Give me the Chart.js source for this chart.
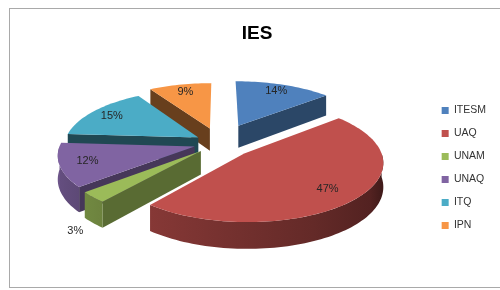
<!DOCTYPE html>
<html>
<head>
<meta charset="utf-8">
<script src="https://cdn.jsdelivr.net/npm/chart.js@4.4.0/dist/chart.umd.min.js"></script>
<style>
  html, body { margin: 0; padding: 0; background: #fff; }
  #wrap { position: relative; width: 500px; height: 290px; overflow: hidden; }
  #frame { position: absolute; left: 9px; top: 8px; width: 520px; height: 278px; border: 1px solid #a9a9a9; }
  canvas { position: absolute; left: 0; top: 0; }
</style>
</head>
<body>
<div id="wrap"><div id="frame"></div><canvas id="c" width="500" height="290"></canvas></div>
<script>
const labels = ['ITESM', 'UAQ', 'UNAM', 'UNAQ', 'ITQ', 'IPN'];
const values = [14, 47, 3, 12, 15, 9];
const colors = ['#4F81BD', '#C0504D', '#9BBB59', '#8064A2', '#4BACC6', '#F79646'];

// explode distance per slice and where its % label sits (fraction of radius)
const explode = [46, 34, 26, 26, 25, 36];
const labelAt = [0.82, 0.78, 1.15, 0.8, 0.82, 0.8];

const FONT = "'Liberation Sans', Arial, sans-serif";
const TILT = 0.43, PERSP = 0.14, DEPTH = 23;
const SHIFT_X = -4, SHIFT_Y = -25;

function shade(hex, f) {
  const n = parseInt(hex.slice(1), 16);
  const c = [(n >> 16) & 255, (n >> 8) & 255, n & 255].map((v) => Math.round(Math.min(255, v * f)));
  return `rgb(${c[0]},${c[1]},${c[2]})`;
}

// how far towards the viewer a slice reaches, used for painter's order
function frontness(a0, a1) {
  let best = Math.max(Math.sin(a0), Math.sin(a1));
  for (let t = Math.PI / 2; t < a1 + 7; t += Math.PI * 2) if (t >= a0 && t <= a1) best = 1;
  return best;
}

const wallShade = (t) => Math.min(0.85, 0.34 + 0.5 * t / Math.PI);

/* Draws the pie arcs as an exploded, tilted 3D pie using the geometry
   Chart.js computed for each arc (angles, radius, offset). */
const pie3d = {
  id: 'pie3d',
  beforeDatasetsDraw(chart) {
    const ctx = chart.ctx;
    const arcs = chart.getDatasetMeta(0).data;
    const R = arcs[0].outerRadius;
    const cx = arcs[0].x + SHIFT_X, cy = arcs[0].y + SHIFT_Y;
    const proj = (u, v, h) => {
      const s = 1 + PERSP * v / R;
      return [cx + u * s, cy + (TILT * v + h * DEPTH) * s];
    };
    const slices = arcs.map((arc, i) => {
      const a0 = arc.startAngle, a1 = arc.endAngle, mid = (a0 + a1) / 2;
      const off = arc.options.offset || 0;
      return { i, a0, a1, mid, ox: Math.cos(mid) * off, oy: Math.sin(mid) * off,
        color: colors[i], key: frontness(a0, a1) };
    }).sort((a, b) => a.key - b.key);

    const edge = (sl, t, h) => proj(sl.ox + R * Math.cos(t), sl.oy + R * Math.sin(t), h);
    const apex = (sl, h) => proj(sl.ox, sl.oy, h);
    const poly = (pts, fill) => {
      ctx.beginPath();
      pts.forEach((p, k) => (k ? ctx.lineTo(p[0], p[1]) : ctx.moveTo(p[0], p[1])));
      ctx.closePath();
      ctx.fillStyle = fill;
      ctx.fill();
    };

    ctx.save();
    slices.forEach((sl) => {
      // radial side faces that look towards the viewer
      const faces = [];
      if (Math.cos(sl.a0) < 0) faces.push([sl.a0, Math.sin(sl.a0)]);
      if (Math.cos(sl.a1) > 0) faces.push([sl.a1, -Math.sin(sl.a1)]);
      faces.forEach(([a, nx]) => {
        const f = 0.42 + 0.2 * Math.max(0, nx);
        poly([apex(sl, 0), edge(sl, a, 0), edge(sl, a, 1), apex(sl, 1)], shade(sl.color, f));
      });
      // curved outer wall on the front half, shaded left (light) to right (dark)
      const lo = Math.max(sl.a0, 0), hi = Math.min(sl.a1, Math.PI);
      if (hi > lo) {
        const n = Math.max(2, Math.ceil((hi - lo) / 0.03));
        const top = [], bot = [];
        for (let j = 0; j <= n; j++) {
          const t = lo + (hi - lo) * j / n;
          top.push(edge(sl, t, 0));
          bot.unshift(edge(sl, t, 1));
        }
        const xl = edge(sl, hi, 0)[0], xr = edge(sl, lo, 0)[0];
        const g = ctx.createLinearGradient(xl, 0, xr + 0.01, 0);
        for (let j = 0; j <= 4; j++) {
          const t = hi - (hi - lo) * j / 4;
          const x = edge(sl, t, 0)[0];
          g.addColorStop(Math.min(1, Math.max(0, (x - xl) / (xr - xl + 0.01))), shade(sl.color, wallShade(t)));
        }
        poly(top.concat(bot), g);
      }
      // top face
      const pts = [apex(sl, 0)];
      const n = Math.max(2, Math.ceil((sl.a1 - sl.a0) / 0.03));
      for (let j = 0; j <= n; j++) pts.push(edge(sl, sl.a0 + (sl.a1 - sl.a0) * j / n, 0));
      poly(pts, sl.color);
    });

    // percentage labels
    const total = values.reduce((s, v) => s + v, 0);
    ctx.font = `11px ${FONT}`;
    ctx.fillStyle = '#262626';
    ctx.textAlign = 'center';
    ctx.textBaseline = 'middle';
    slices.forEach((sl) => {
      const r = labelAt[sl.i];
      const p = proj(sl.ox + r * R * Math.cos(sl.mid), sl.oy + r * R * Math.sin(sl.mid), r > 1 ? 1 : 0);
      ctx.fillText(Math.round(values[sl.i] / total * 100) + '%', p[0], p[1]);
    });
    ctx.restore();
    return false;
  }
};

new Chart(document.getElementById('c'), {
  type: 'pie',
  data: {
    labels,
    datasets: [{ data: values, backgroundColor: colors, offset: explode, borderWidth: 0, radius: 134 }]
  },
  options: {
    responsive: false,
    animation: false,
    layout: { padding: { left: 18, right: 4, top: 0, bottom: 9 } },
    plugins: {
      title: { display: true, text: 'IES', color: '#000', font: { family: FONT, size: 19, weight: 'bold' }, padding: { top: 22, bottom: 10 } },
      legend: {
        position: 'right',
        fullSize: false,
        labels: { boxWidth: 7, boxHeight: 7, padding: 12.5, color: '#333', font: { family: FONT, size: 10.5 } }
      },
      tooltip: { enabled: false }
    }
  },
  plugins: [pie3d]
});
</script>
</body>
</html>
